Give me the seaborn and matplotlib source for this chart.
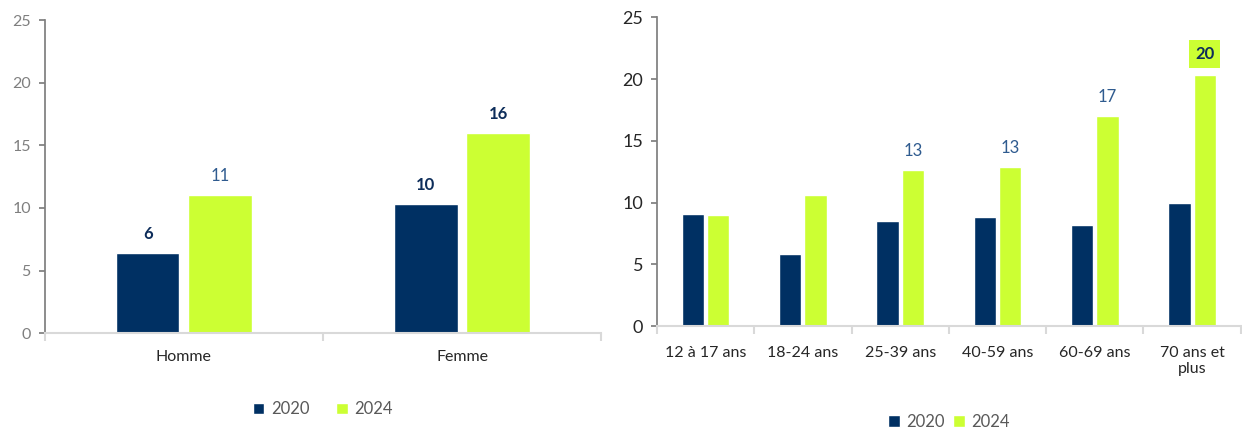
import matplotlib

matplotlib.use("Agg")
import matplotlib.pyplot as plt
import pandas as pd
import seaborn as sns

# ---- donnees ----
ANNEES = ["2020", "2024"]
SEXES = ["Homme", "Femme"]
SEXE_2020 = [6.4, 10.3]
SEXE_2024 = [11.0, 16.0]

AGES = ["12 à 17 ans", "18-24 ans", "25-39 ans", "40-59 ans", "60-69 ans", "70 ans et\nplus"]
AGE_2020 = [9.1, 5.8, 8.5, 8.8, 8.2, 10.0]
AGE_2024 = [9.0, 10.6, 12.6, 12.9, 17.0, 20.3]

# etiquettes affichees : (serie, index) -> style
ETIQ_SEXE = {(0, 0): "gras", (1, 0): "normal", (0, 1): "gras", (1, 1): "gras"}
ETIQ_AGE = {(1, 2): "normal", (1, 3): "normal", (1, 4): "normal", (1, 5): "encadre"}

MARINE = "#003063"
VERT = "#ccff33"
BLEU_TXT = "#2f5b8f"

sns.set_theme(style="white")
plt.rcParams["font.family"] = ["Lato", "DejaVu Sans"]


def _long(cats, v1, v2):
    return pd.DataFrame({
        "cat": cats * 2,
        "annee": [ANNEES[0]] * len(cats) + [ANNEES[1]] * len(cats),
        "val": v1 + v2,
    })


def _axe(ax, df, cats, etiq, tick_fs, tick_col, x_pad, leg_y, col_sp):
    sns.barplot(data=df, x="cat", y="val", hue="annee", order=cats,
                palette=[MARINE, VERT], width=0.52, gap=0.12, saturation=1,
                ax=ax, legend=True)
    ax.set_ylim(0, 25)
    ax.set_yticks(range(0, 26, 5))
    ax.set_xlim(-0.5, len(cats) - 0.5)
    ax.set_xlabel("")
    ax.set_ylabel("")
    for s in ["top", "right"]:
        ax.spines[s].set_visible(False)
    ax.spines["left"].set_color("#7f7f7f")
    ax.spines["bottom"].set_color("#d9d9d9")
    ax.spines["bottom"].set_linewidth(1.5)
    ax.tick_params(axis="y", length=4, color="#7f7f7f", labelsize=tick_fs,
                   labelcolor=tick_col, pad=6, left=True)
    # separateurs de categories
    ax.set_xticks([i - 0.5 for i in range(len(cats) + 1)], minor=True)
    ax.tick_params(axis="x", which="minor", length=6, color="#d9d9d9", width=1.5,
                   bottom=True)
    ax.tick_params(axis="x", which="major", length=0, labelsize=11.5,
                   labelcolor="#262626", pad=x_pad)
    for (serie, i), style in etiq.items():
        bar = ax.containers[serie][i]
        x = bar.get_x() + bar.get_width() / 2
        h = bar.get_height()
        txt = f"{h:.0f}"
        if style == "normal":
            ax.text(x, h + 0.9, txt, ha="center", va="bottom", fontsize=12,
                    color=BLEU_TXT)
        elif style == "gras":
            ax.text(x, h + 0.9, txt, ha="center", va="bottom", fontsize=12,
                    color="#0d2d5a", fontweight="bold")
        else:
            ax.text(x, h + 1.1, txt, ha="center", va="bottom", fontsize=12,
                    color="#0d2d5a", fontweight="bold",
                    bbox=dict(boxstyle="square,pad=0.35", fc=VERT, ec="none"))
    leg = ax.legend(loc="upper center", bbox_to_anchor=(0.5, leg_y), ncol=2,
                    frameon=False, fontsize=12, handlelength=0.7, handleheight=0.7,
                    columnspacing=col_sp, handletextpad=0.4)
    for t in leg.get_texts():
        t.set_color("#595959")


fig = plt.figure(figsize=(12.42, 4.32), dpi=100)
ax1 = fig.add_axes([0.036, 0.229, 0.448, 0.724])
ax2 = fig.add_axes([0.529, 0.245, 0.47, 0.715])

_axe(ax1, _long(SEXES, SEXE_2020, SEXE_2024), SEXES, ETIQ_SEXE, 11.5, "#7f7f7f",
     12, -0.17, 1.6)
_axe(ax2, _long(AGES, AGE_2020, AGE_2024), AGES, ETIQ_AGE, 13, "#262626",
     14, -0.235, 0.5)

fig.savefig("out.png", dpi=100)
